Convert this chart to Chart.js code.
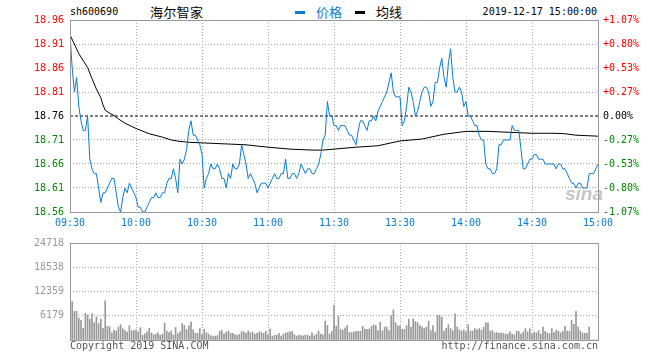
<!DOCTYPE html>
<html>
<head>
<meta charset="utf-8">
<script src="https://cdn.jsdelivr.net/npm/chart.js@4.4.0/dist/chart.umd.min.js"></script>
<style>
  body { margin: 0; background: #fff; width: 660px; height: 360px; position: relative; overflow: hidden; font-family: 'DejaVu Sans Mono', monospace; }
  canvas { position: absolute; left: 0; }
  .t { position: absolute; font-size: 10px; line-height: 12px; white-space: nowrap; }
  .cn { position: absolute; font-family: 'Noto Sans CJK SC', sans-serif; font-size: 13px; line-height: 15px; white-space: nowrap; }
  .dash { position: absolute; width: 10px; height: 3px; }
  .wm { position: absolute; left: 565px; top: 183px; font: italic bold 19px 'Liberation Sans', sans-serif; color: rgba(150,150,150,0.55); }
</style>
</head>
<body>
<div class="t" style="left:70px; top:6px; color:#000;">sh600690</div>
<div class="cn" style="left:150px; top:4px; color:#000; letter-spacing:0.3px;">海尔智家</div>
<div class="dash" style="left:295px; top:11px; background:#0b7bd0;"></div>
<div class="cn" style="left:316px; top:4px; color:#0b7bd0;">价格</div>
<div class="dash" style="left:355px; top:11px; background:#000;"></div>
<div class="cn" style="left:376px; top:4px; color:#000;">均线</div>
<div class="t" style="right:63px; top:6px; color:#000;">2019-12-17 15:00:00</div>
<canvas id="price" width="660" height="232" style="top:0;"></canvas>
<canvas id="volume" width="660" height="129" style="top:231px;"></canvas>
<div class="wm">sina</div>
<div class="t" style="left:70px; top:340px; color:#555;">Copyright 2019 SINA.COM</div>
<div class="t" style="right:62px; top:340px; color:#555;">http://finance.sina.com.cn</div>
<script>
// minute index 0..240 (09:30-11:30, 13:00-15:00)
const tickMinutes = [0, 30, 60, 90, 120, 150, 180, 210, 240];
const tickLabels = ['09:30', '10:00', '10:30', '11:00', '11:30', '13:30', '14:00', '14:30', '15:00'];

const prevClose = 18.76;
const priceTicks = [18.56, 18.61, 18.66, 18.71, 18.76, 18.81, 18.86, 18.91, 18.96];
const pctLabels = ['-1.07%', '-0.80%', '-0.53%', '-0.27%', '0.00%', '+0.27%', '+0.53%', '+0.80%', '+1.07%'];
const volTicks = [0, 6179, 12359, 18538, 24718];

const price = [
  18.93,
  18.86, 18.81, 18.84, 18.78, 18.75, 18.73, 18.73, 18.76, 18.67, 18.65,
  18.64, 18.64, 18.61, 18.58, 18.60, 18.60, 18.61, 18.62, 18.63, 18.63,
  18.60, 18.57, 18.56, 18.59, 18.61, 18.60, 18.62, 18.61, 18.60, 18.59,
  18.57, 18.57, 18.56, 18.56, 18.57, 18.58, 18.59, 18.59, 18.60, 18.59,
  18.59, 18.60, 18.60, 18.62, 18.63, 18.63, 18.65, 18.63, 18.60, 18.67,
  18.66, 18.67, 18.69, 18.73, 18.75, 18.72, 18.72, 18.71, 18.70, 18.68,
  18.61, 18.63, 18.64, 18.66, 18.65, 18.65, 18.66, 18.65, 18.63, 18.63,
  18.61, 18.64, 18.63, 18.66, 18.65, 18.65, 18.66, 18.70, 18.68, 18.66,
  18.63, 18.64, 18.63, 18.62, 18.60, 18.61, 18.62, 18.62, 18.62, 18.61,
  18.62, 18.63, 18.64, 18.63, 18.63, 18.64, 18.64, 18.67, 18.63, 18.63,
  18.64, 18.64, 18.63, 18.64, 18.66, 18.65, 18.64, 18.65, 18.65, 18.64,
  18.64, 18.65, 18.66, 18.68, 18.71, 18.72, 18.79, 18.76, 18.76, 18.74,
  18.74, 18.73, 18.74, 18.74, 18.74, 18.73, 18.72, 18.72, 18.71, 18.70,
  18.73, 18.75, 18.75, 18.74, 18.73, 18.75, 18.75, 18.76, 18.75, 18.77,
  18.78, 18.79, 18.80, 18.81, 18.83, 18.85, 18.81, 18.80, 18.80, 18.80,
  18.74, 18.75, 18.78, 18.82, 18.81, 18.79, 18.76, 18.77, 18.79, 18.81,
  18.82, 18.82, 18.81, 18.78, 18.79, 18.83, 18.83, 18.86, 18.88, 18.84,
  18.82, 18.87, 18.90, 18.84, 18.81, 18.81, 18.82, 18.81, 18.78, 18.79,
  18.76, 18.76, 18.75, 18.74, 18.74, 18.72, 18.71, 18.71, 18.66, 18.65,
  18.65, 18.64, 18.64, 18.65, 18.70, 18.70, 18.71, 18.71, 18.71, 18.71,
  18.74, 18.73, 18.73, 18.73, 18.69, 18.65, 18.65, 18.66, 18.67, 18.67,
  18.68, 18.68, 18.67, 18.67, 18.67, 18.66, 18.66, 18.66, 18.66, 18.66,
  18.65, 18.66, 18.66, 18.65, 18.65, 18.64, 18.63, 18.62, 18.62, 18.61,
  18.62, 18.62, 18.61, 18.61, 18.61, 18.64, 18.64, 18.64, 18.65, 18.66
];

// average line, read at these minutes
const avgMinute = [0, 4, 8, 10, 12, 14, 15, 16, 18, 20, 22, 25, 30, 36, 42, 46, 50, 55, 60,
  70, 80, 90, 100, 110, 115, 120, 130, 140, 150, 160, 170, 180, 190, 200, 210, 220, 225, 230, 240];
const avgPrice = [18.929, 18.890, 18.861, 18.838, 18.816, 18.798, 18.783, 18.772, 18.766, 18.761,
  18.754, 18.745, 18.734, 18.723, 18.716, 18.710, 18.707, 18.705, 18.704,
  18.702, 18.700, 18.695, 18.691, 18.689, 18.689, 18.691, 18.695, 18.698, 18.708,
  18.712, 18.722, 18.728, 18.728, 18.726, 18.724, 18.724, 18.723, 18.720, 18.718];

const volume = [
  24718,
  9800, 7300, 7300, 5600, 5000, 3000, 6800, 6400, 5300, 6700,
  4400, 5900, 4200, 5300, 3000, 10000, 3500, 3400, 1800, 2500,
  2300, 3300, 3900, 2900, 2400, 2000, 3700, 2400, 2400, 2600,
  2100, 3100, 1200, 1600, 2100, 3000, 1800, 1400, 1500, 1800,
  1200, 1500, 4300, 2300, 1900, 2300, 1300, 3200, 1600, 2100,
  4200, 3700, 2700, 3600, 4600, 2600, 1700, 1700, 2900, 1400,
  2700, 1900, 1500, 1100, 900, 1000, 1100, 2200, 2500, 1600,
  2000, 2300, 1700, 1700, 1400, 1200, 1500, 2100, 2100, 1700,
  2300, 1900, 2000, 1500, 1700, 2100, 1900, 1700, 2200, 1300,
  2800, 1000, 1200, 1200, 1700, 1000, 1500, 1800, 1900, 2100,
  2200, 1400, 1000, 1200, 1100, 1000, 1300, 1200, 1000, 1800,
  1100, 1500, 2300, 1500, 1300, 4800, 3700, 1500, 2200, 8900,
  3500, 6100, 2700, 2500, 3100, 3700, 1900, 1900, 2000, 2200,
  2200, 2200, 3500, 2800, 2700, 2800, 3500, 3900, 3700, 2400,
  4500, 2300, 3300, 3300, 2400, 6200, 7700, 4400, 3600, 3600,
  2700, 2700, 3700, 5300, 3300, 5400, 4700, 4400, 3700, 3300,
  3000, 3300, 4800, 2400, 3700, 2000, 6300, 6300, 5800, 2300,
  3000, 3900, 2900, 2400, 6700, 3300, 2600, 2300, 2600, 2100,
  3900, 2300, 2300, 2900, 2600, 2900, 2500, 3300, 4400, 4400,
  2300, 2400, 1800, 1900, 1700, 1800, 1700, 1500, 1500, 2100,
  1500, 1300, 2300, 2200, 1500, 2000, 2900, 2100, 2900, 1600,
  2000, 1800, 2400, 1500, 3300, 2200, 1800, 1600, 2900, 1900,
  2500, 2200, 1800, 2200, 3500, 2300, 2200, 5000, 4000, 7300,
  3300, 2300, 1800, 1700, 1700, 3300, 0, 0, 0, 0
];

const blue = '#0b7bd0';
const gridColor = '#aaa';
const frameColor = '#999';

Chart.defaults.font.family = "'DejaVu Sans Mono', monospace";
Chart.defaults.font.size = 10;

function levelColor(v) {
  if (Math.abs(v - prevClose) < 1e-6) return '#000';
  return v > prevClose ? '#f00' : '#080';
}

// gray box round the plot area
const frame = {
  id: 'frame',
  afterDraw(chart) {
    const { ctx, chartArea: a } = chart;
    ctx.save();
    ctx.strokeStyle = frameColor;
    ctx.lineWidth = 1;
    ctx.strokeRect(Math.round(a.left) + 0.5, Math.round(a.top) + 0.5,
      Math.round(a.right - a.left), Math.round(a.bottom - a.top));
    ctx.restore();
  }
};

const timeAxis = (showLabels) => ({
  type: 'linear', min: 0, max: 240, offset: false,
  afterBuildTicks: s => { s.ticks = tickMinutes.map(v => ({ value: v })); },
  afterFit: s => { s.height = 20; },
  ticks: { display: showLabels, color: blue, padding: 5, maxRotation: 0, autoSkip: false,
    callback: (v, i) => tickLabels[i] },
  grid: { color: gridColor, drawTicks: false, offset: false },
  border: { display: false, dash: [1, 2] }
});

new Chart(document.getElementById('price'), {
  type: 'line',
  data: {
    datasets: [
      { label: '价格', data: price.map((p, i) => ({ x: i, y: p })),
        borderColor: blue, borderWidth: 1, pointRadius: 0, yAxisID: 'y' },
      { label: '均线', data: avgMinute.map((m, k) => ({ x: m, y: avgPrice[k] })),
        borderColor: '#000', borderWidth: 1, pointRadius: 0, yAxisID: 'y' },
      { label: '昨收', data: [{ x: 0, y: prevClose }, { x: 240, y: prevClose }],
        borderColor: '#000', borderWidth: 1, borderDash: [3, 2], pointRadius: 0, yAxisID: 'y' }
    ]
  },
  options: {
    responsive: false,
    animation: false,
    layout: { padding: { top: 20 } },
    plugins: { legend: { display: false }, tooltip: { enabled: false } },
    scales: {
      x: timeAxis(true),
      y: {
        position: 'left', min: 18.56, max: 18.96,
        afterBuildTicks: s => { s.ticks = priceTicks.map(v => ({ value: v })); },
        afterFit: s => { s.width = 70; },
        ticks: { padding: 6, color: c => levelColor(c.tick.value), callback: v => v.toFixed(2) },
        grid: { drawTicks: false,
          color: c => Math.abs(c.tick.value - prevClose) < 1e-6 ? 'rgba(0,0,0,0)' : gridColor },
        border: { display: false, dash: [1, 2] }
      },
      y2: {
        position: 'right', min: 18.56, max: 18.96,
        afterBuildTicks: s => { s.ticks = priceTicks.map(v => ({ value: v })); },
        afterFit: s => { s.width = 62; },
        ticks: { padding: 5, color: c => levelColor(c.tick.value), callback: (v, i) => pctLabels[i] },
        grid: { display: false, drawTicks: false },
        border: { display: false }
      }
    }
  },
  plugins: [frame]
});

new Chart(document.getElementById('volume'), {
  type: 'bar',
  data: {
    datasets: [
      { label: '成交量', data: volume.map((v, i) => ({ x: i, y: v })),
        backgroundColor: '#999', barThickness: 1 }
    ]
  },
  options: {
    responsive: false,
    animation: false,
    layout: { padding: { top: 10, right: 62 } },
    plugins: { legend: { display: false }, tooltip: { enabled: false } },
    scales: {
      x: timeAxis(false),
      y: {
        min: 0, max: 24718,
        afterBuildTicks: s => { s.ticks = volTicks.map(v => ({ value: v })); },
        afterFit: s => { s.width = 70; },
        ticks: { padding: 6, color: '#999', callback: v => (v === 0 ? '' : String(v)) },
        grid: { color: gridColor, drawTicks: false },
        border: { display: false, dash: [1, 2] }
      }
    }
  },
  plugins: [frame]
});
</script>
</body>
</html>
